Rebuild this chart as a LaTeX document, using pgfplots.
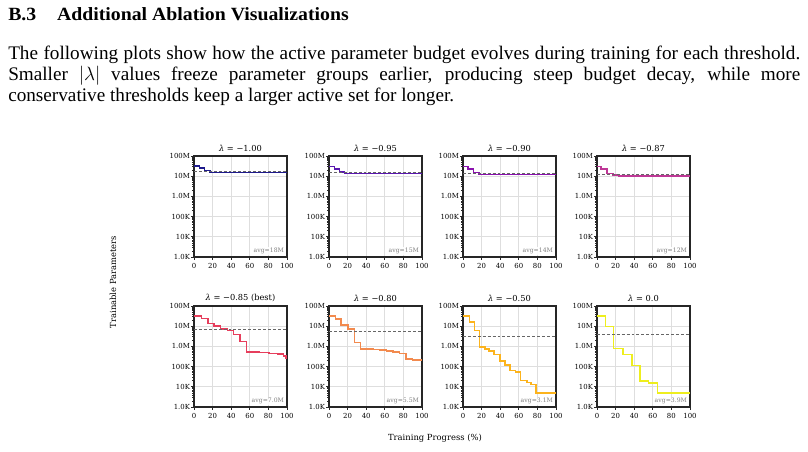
\documentclass[border=0pt]{standalone}
\usepackage{pgfplots}
\usepackage{pgfplotstable}
\pgfplotsset{compat=1.18}
\usepackage{fontspec}
\setmainfont{Liberation Serif}
\newfontfamily\plotfont{DejaVu Serif}

% one colour per threshold
\definecolor{cA}{HTML}{1E1A8C}
\definecolor{cB}{HTML}{5A18B0}
\definecolor{cC}{HTML}{8A12AE}
\definecolor{cD}{HTML}{BE3896}
\definecolor{cE}{HTML}{E63E5C}
\definecolor{cF}{HTML}{F28A4E}
\definecolor{cG}{HTML}{FCB31C}
\definecolor{cH}{HTML}{EEEE1E}

% trainable parameters over training progress (%)
\pgfplotstableread{
x y
0 32e6
5.7 25.5e6
11.4 19e6
17 15.5e6
100 15.5e6
}\budgetA
\pgfplotstableread{
x y
0 29.5e6
6 22.5e6
11.5 16.5e6
16.5 13.4e6
100 13.4e6
}\budgetB
\pgfplotstableread{
x y
0 30e6
5.5 23e6
11.5 15.5e6
17 12e6
100 12e6
}\budgetC
\pgfplotstableread{
x y
0 29.6e6
4.5 22.6e6
10.8 13.8e6
17 11.4e6
23 10.2e6
100 10.2e6
}\budgetD
\pgfplotstableread{
x y
0 32e6
7.8 24.5e6
14.9 13.3e6
21.3 10.5e6
28.4 7.2e6
36.2 6.0e6
42.2 3.9e6
49.3 1.7e6
56.4 520e3
70 490e3
80.5 450e3
90 415e3
96.5 340e3
99 265e3
100 265e3
}\budgetE
\pgfplotstableread{
x y
0 32e6
7.1 22.6e6
13.1 11.4e6
20.2 7.2e6
27.7 1.6e6
33.7 750e3
48 700e3
55 660e3
62 600e3
69 520e3
76 450e3
83 235e3
90 208e3
100 208e3
}\budgetF
\pgfplotstableread{
x y
0 32e6
6.9 16e6
12.3 6.0e6
17.7 955e3
23.5 730e3
27.8 580e3
33.2 400e3
39.7 193e3
45.1 117e3
50.5 66e3
56.7 55e3
62.1 21e3
68.6 16e3
72.9 12.9e3
78.3 5.0e3
100 5.0e3
}\budgetG
\pgfplotstableread{
x y
0 32e6
8.9 9.4e6
17.9 790e3
27.9 400e3
37.5 113e3
46.4 19.5e3
55.4 15.6e3
65 5.0e3
100 5.0e3
}\budgetH

\tikzset{
  avgtag/.style={anchor=south east, font=\plotfont\fontsize{4.6}{5}\selectfont,
    text=black!50, fill=white, fill opacity=0.9, text opacity=1,
    inner sep=0.7pt},
}

% #1 position, #2 colour, #3 threshold, #4 table, #5 average, #6 average label
\newcommand{\panel}[6]{%
  \begin{axis}[
    at={#1}, anchor=south west,
    scale only axis, width=69.75pt, height=75.75pt,
    ymode=log, ymin=1e3, ymax=1e8, xmin=0, xmax=100,
    xtick={0,20,40,60,80,100},
    ytick={1e3,1e4,1e5,1e6,1e7,1e8},
    yticklabels={1.0K,10K,100K,1.0M,10M,100M},
    minor ytick={2e3,3e3,4e3,5e3,6e3,7e3,8e3,9e3,
      2e4,3e4,4e4,5e4,6e4,7e4,8e4,9e4,
      2e5,3e5,4e5,5e5,6e5,7e5,8e5,9e5,
      2e6,3e6,4e6,5e6,6e6,7e6,8e6,9e6,
      2e7,3e7,4e7,5e7,6e7,7e7,8e7,9e7},
    xmajorgrids, ymajorgrids,
    major grid style={line width=0.6pt, black!13},
    axis line style={line width=0.8pt, black!85},
    tick align=outside, xtick pos=left, ytick pos=left,
    major tick length=2pt, minor tick length=1.3pt,
    tick style={black!85, line width=0.5pt},
    /pgf/number format/assume math mode=true,
    ticklabel style={font=\plotfont\fontsize{5.2}{5.5}\selectfont},
    xticklabel style={yshift=1pt},
    yticklabel style={xshift=2.5pt},
    title style={font=\plotfont\fontsize{6.2}{6.5}\selectfont, yshift=-6pt},
    title={\textit{λ} = #3}]
    \addplot[#2, const plot, line width=1.1pt, mark=none] table {#4};
    \addplot[black!60, line width=0.6pt, dash pattern=on 2.2pt off 1.5pt, forget plot]
      coordinates {(0,#5) (100,#5)};
    \node[avgtag] at (rel axis cs:0.98,0.02) {avg=#6};
  \end{axis}}

\begin{document}
\begin{tikzpicture}
  \useasboundingbox (0,0) rectangle (606pt,-338.25pt);

  \node[anchor=base west, inner sep=0, font=\bfseries\fontsize{14}{17}\selectfont]
    at (6pt,-15pt) {\scalebox{1.06}[1]{B.3\hspace{1.05em}Additional Ablation Visualizations}};
  \node[anchor=base west, inner sep=0, font=\fontsize{14.4}{17}\selectfont] at (6pt,-44.25pt)
    {\makebox[594pt][s]{The following plots show how the active parameter budget evolves during training for each threshold.}};
  \node[anchor=base west, inner sep=0, font=\fontsize{14.4}{17}\selectfont] at (6pt,-60.4pt)
    {\makebox[594pt][s]{Smaller $|\lambda|$ values freeze parameter groups earlier, producing steep budget decay, while more}};
  \node[anchor=base west, inner sep=0, font=\fontsize{14.4}{17}\selectfont] at (6pt,-76.1pt)
    {conservative thresholds keep a larger active set for longer.};

  \panel{(145.5pt,-192.75pt)}{cA}{−1.00}{\budgetA}{18e6}{18M}
  \panel{(246.75pt,-192.75pt)}{cB}{−0.95}{\budgetB}{15e6}{15M}
  \panel{(347.25pt,-192.75pt)}{cC}{−0.90}{\budgetC}{14e6}{14M}
  \panel{(447.75pt,-192.75pt)}{cD}{−0.87}{\budgetD}{12e6}{12M}
  \panel{(145.5pt,-305.25pt)}{cE}{−0.85 (best)}{\budgetE}{7.0e6}{7.0M}
  \panel{(246.75pt,-305.25pt)}{cF}{−0.80}{\budgetF}{5.5e6}{5.5M}
  \panel{(347.25pt,-305.25pt)}{cG}{−0.50}{\budgetG}{3.1e6}{3.1M}
  \panel{(447.75pt,-305.25pt)}{cH}{0.0}{\budgetH}{3.9e6}{3.9M}

  \node[rotate=90, font=\plotfont\fontsize{6.3}{6.5}\selectfont] at (84.75pt,-211.5pt) {Trainable Parameters};
  \node[font=\plotfont\fontsize{6.3}{6.5}\selectfont] at (326.25pt,-328.5pt) {Training Progress (\%)};
\end{tikzpicture}
\end{document}
